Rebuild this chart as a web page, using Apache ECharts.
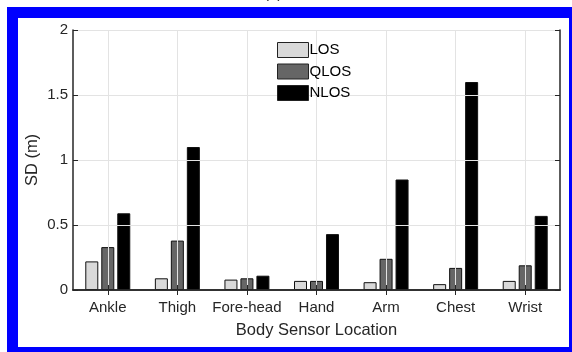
<!DOCTYPE html>
<html>
<head>
<meta charset="utf-8">
<script src="https://cdn.jsdelivr.net/npm/echarts@6/dist/echarts.min.js"></script>
<style>
  html, body { margin: 0; padding: 0; background: #fff; }
  #chart { width: 572px; height: 352px; }
</style>
</head>
<body>
<div id="chart"></div>
<script>
// Standard deviation of ranging error per body sensor location
const locations = ['Ankle', 'Thigh', 'Fore-head', 'Hand', 'Arm', 'Chest', 'Wrist'];
const losSD   = [0.22, 0.09, 0.08, 0.07, 0.06, 0.045, 0.07];
const qlosSD  = [0.33, 0.38, 0.09, 0.07, 0.24, 0.17, 0.19];
const nlosSD  = [0.59, 1.10, 0.11, 0.43, 0.85, 1.60, 0.57];
const yTicks  = [0, 0.5, 1, 1.5, 2];

const FONT = '"Liberation Sans", Arial, Helvetica, sans-serif';
const INK = '#262626';

const chart = echarts.init(document.getElementById('chart'), null, { renderer: 'canvas' });

function barSeries(name, data, color) {
  return {
    name: name,
    type: 'bar',
    data: data,
    barWidth: 13,
    barGap: '23%',
    itemStyle: { color: color, borderColor: '#111', borderWidth: 1 },
    emphasis: { disabled: true },
    animation: false
  };
}

const option = {
  backgroundColor: '#ffffff',
  animation: false,
  grid: { left: 73, right: 12, top: 30, bottom: 62 },
  legend: {
    orient: 'vertical',
    left: 277,
    top: 42,
    padding: 0,
    itemWidth: 31,
    itemHeight: 15,
    itemGap: 5.5,
    icon: 'rect',
    itemStyle: { borderColor: '#222', borderWidth: 1 },
    textStyle: { fontFamily: FONT, fontSize: 15, color: '#000', lineHeight: 15, padding: [0, 0, 0, -4] },
    data: ['LOS', 'QLOS', 'NLOS']
  },
  xAxis: [
    {
      type: 'category',
      data: locations,
      position: 'bottom',
      boundaryGap: true,
      z: 3,
      axisLine: { show: true, lineStyle: { color: INK, width: 1.5 } },
      axisTick: { show: true, inside: true, alignWithLabel: true, interval: 0, length: 5, lineStyle: { color: INK } },
      axisLabel: { fontFamily: FONT, fontSize: 15, color: INK, margin: 10, interval: 0 },
      splitLine: { show: true, alignWithLabel: true, interval: 0, lineStyle: { color: '#e3e3e3', width: 1 } },
      name: 'Body Sensor Location',
      nameLocation: 'middle',
      nameGap: 32,
      nameTextStyle: { fontFamily: FONT, fontSize: 16.5, color: INK }
    },
    {
      type: 'category',
      data: locations,
      position: 'top',
      boundaryGap: true,
      z: 3,
      axisLine: { show: true, lineStyle: { color: INK, width: 1.5 } },
      axisTick: { show: true, inside: true, alignWithLabel: true, interval: 0, length: 5, lineStyle: { color: INK } },
      axisLabel: { show: false },
      splitLine: { show: false }
    }
  ],
  yAxis: [
    {
      type: 'value',
      min: 0,
      max: 2,
      interval: 0.5,
      position: 'left',
      z: 3,
      axisLine: { show: true, lineStyle: { color: INK, width: 1.5 } },
      axisTick: { show: true, inside: true, length: 5, lineStyle: { color: INK } },
      axisLabel: {
        fontFamily: FONT, fontSize: 15, color: INK, margin: 5,
        formatter: v => (yTicks.indexOf(v) >= 0 ? String(v) : '')
      },
      splitLine: { show: true, lineStyle: { color: '#e3e3e3', width: 1 } },
      name: 'SD (m)',
      nameLocation: 'middle',
      nameGap: 32,
      nameMoveOverlap: false,
      nameRotate: 90,
      nameTextStyle: { fontFamily: FONT, fontSize: 16.5, color: INK }
    },
    {
      type: 'value',
      min: 0,
      max: 2,
      interval: 0.5,
      position: 'right',
      z: 3,
      axisLine: { show: true, lineStyle: { color: INK, width: 1.5 } },
      axisTick: { show: true, inside: true, length: 5, lineStyle: { color: INK } },
      axisLabel: { show: false },
      splitLine: { show: false }
    }
  ],
  series: [
    barSeries('LOS', losSD, '#d9d9d9'),
    barSeries('QLOS', qlosSD, '#666666'),
    barSeries('NLOS', nlosSD, '#000000')
  ],
  graphic: [
    {
      type: 'text',
      left: 264,
      top: -14,
      z: 10,
      style: { text: '(a)', fontFamily: FONT, fontSize: 15, fill: INK }
    },
    // blue frame around the figure
    { type: 'rect', z: 20, shape: { x: 7, y: 7, width: 565, height: 11 }, style: { fill: '#0000ff' } },
    { type: 'rect', z: 20, shape: { x: 7, y: 7, width: 11, height: 345 }, style: { fill: '#0000ff' } },
    { type: 'rect', z: 20, shape: { x: 569, y: 7, width: 3, height: 345 }, style: { fill: '#0000ff' } },
    { type: 'rect', z: 20, shape: { x: 7, y: 347, width: 565, height: 5 }, style: { fill: '#0000ff' } }
  ]
};

chart.setOption(option);
</script>
</body>
</html>
